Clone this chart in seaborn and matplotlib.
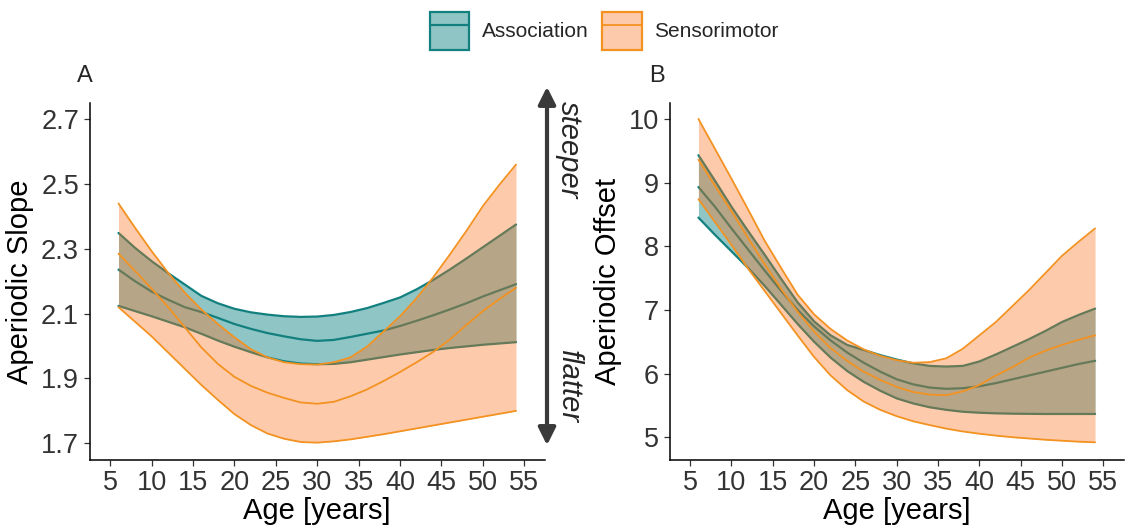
import numpy as np
import pandas as pd
import matplotlib
matplotlib.use("Agg")
import matplotlib.pyplot as plt
import seaborn as sns
from matplotlib.patches import Patch, FancyArrowPatch
from matplotlib.lines import Line2D

# ---------------- data ----------------
age = [6, 8, 10, 12, 14, 16, 18, 20, 22, 24, 26, 28, 30,
       32, 34, 36, 38, 40, 42, 44, 46, 48, 50, 52, 54]

# Panel A: aperiodic slope
slope_assoc_mean = [2.236, 2.200, 2.168, 2.143, 2.120, 2.105, 2.087, 2.068, 2.053, 2.040, 2.030, 2.021, 2.016,
                    2.019, 2.028, 2.038, 2.048, 2.062, 2.078, 2.095, 2.113, 2.132, 2.153, 2.172, 2.191]
slope_assoc_lo = [2.124, 2.108, 2.092, 2.075, 2.058, 2.038, 2.017, 1.998, 1.981, 1.965, 1.953, 1.946, 1.944,
                  1.945, 1.950, 1.958, 1.966, 1.974, 1.981, 1.988, 1.994, 1.999, 2.004, 2.008, 2.012]
slope_assoc_hi = [2.349, 2.303, 2.262, 2.225, 2.190, 2.155, 2.132, 2.115, 2.104, 2.097, 2.092, 2.090, 2.091,
                  2.096, 2.105, 2.117, 2.133, 2.150, 2.175, 2.204, 2.236, 2.270, 2.305, 2.340, 2.375]
slope_sens_mean = [2.285, 2.232, 2.177, 2.120, 2.058, 1.996, 1.945, 1.905, 1.877, 1.856, 1.840, 1.826, 1.822,
                   1.828, 1.845, 1.866, 1.892, 1.920, 1.950, 1.982, 2.020, 2.065, 2.108, 2.145, 2.180]
slope_sens_lo = [2.120, 2.075, 2.030, 1.980, 1.930, 1.880, 1.834, 1.790, 1.756, 1.730, 1.714, 1.704, 1.702,
                 1.706, 1.712, 1.720, 1.728, 1.737, 1.746, 1.755, 1.764, 1.773, 1.782, 1.791, 1.800]
slope_sens_hi = [2.440, 2.365, 2.293, 2.226, 2.165, 2.113, 2.068, 2.027, 1.990, 1.965, 1.950, 1.944, 1.943,
                 1.950, 1.965, 1.998, 2.045, 2.092, 2.148, 2.212, 2.282, 2.355, 2.432, 2.498, 2.560]

# Panel B: aperiodic offset
offset_assoc_mean = [8.93, 8.62, 8.28, 7.95, 7.62, 7.30, 7.00, 6.74, 6.52, 6.33, 6.17, 6.03, 5.91,
                     5.83, 5.78, 5.76, 5.77, 5.80, 5.85, 5.91, 5.97, 6.03, 6.09, 6.15, 6.20]
offset_assoc_lo = [8.45, 8.18, 7.92, 7.66, 7.38, 7.08, 6.78, 6.50, 6.25, 6.04, 5.87, 5.73, 5.61,
                   5.53, 5.47, 5.43, 5.40, 5.385, 5.375, 5.37, 5.367, 5.365, 5.365, 5.365, 5.365]
offset_assoc_hi = [9.43, 9.03, 8.62, 8.24, 7.87, 7.49, 7.12, 6.82, 6.60, 6.45, 6.37, 6.29, 6.22,
                   6.16, 6.12, 6.11, 6.12, 6.19, 6.30, 6.42, 6.54, 6.67, 6.81, 6.92, 7.02]
offset_sens_mean = [9.36, 8.95, 8.55, 8.13, 7.72, 7.33, 6.97, 6.66, 6.40, 6.20, 6.03, 5.90, 5.79,
                    5.71, 5.67, 5.66, 5.72, 5.82, 5.97, 6.10, 6.25, 6.36, 6.45, 6.53, 6.60]
offset_sens_lo = [8.74, 8.38, 8.02, 7.65, 7.30, 6.95, 6.60, 6.26, 5.97, 5.74, 5.56, 5.43, 5.33,
                  5.25, 5.19, 5.135, 5.09, 5.055, 5.025, 5.00, 4.98, 4.96, 4.945, 4.93, 4.92]
offset_sens_hi = [10.00, 9.53, 9.06, 8.58, 8.09, 7.66, 7.24, 6.93, 6.70, 6.52, 6.38, 6.28, 6.21,
                  6.17, 6.18, 6.24, 6.39, 6.60, 6.81, 7.06, 7.31, 7.58, 7.85, 8.07, 8.28]

groups = ["Association", "Sensorimotor"]
x_ticks = [5, 10, 15, 20, 25, 30, 35, 40, 45, 50, 55]
slope_ticks = [1.7, 1.9, 2.1, 2.3, 2.5, 2.7]
offset_ticks = [5, 6, 7, 8, 9, 10]

# ---------------- style ----------------
TEAL_FILL = "#138585"
TEAL_LINE = "#12807F"
ORANGE_FILL = "#FC7019"
ORANGE_LINE = "#F39221"
A_TEAL = 0.47
A_ORANGE = 0.36

sns.set_theme(style="ticks")
plt.rcParams['font.family'] = ['Liberation Sans', 'DejaVu Sans']

fig = plt.figure(figsize=(11.3, 5.27), dpi=100)
W, H = 1130, 527
def box(l, r, t, b):
    return [l / W, (H - b) / H, (r - l) / W, (b - t) / H]

axA = fig.add_axes(box(89.5, 545, 103, 459.5))
axB = fig.add_axes(box(669.5, 1124, 103, 459.5))


def draw(ax, a_mean, a_lo, a_hi, s_mean, s_lo, s_hi):
    ax.fill_between(age, a_lo, a_hi, color=TEAL_FILL, alpha=A_TEAL, lw=0, zorder=1)
    for v in (a_lo, a_mean, a_hi):
        sns.lineplot(x=age, y=v, ax=ax, color=TEAL_LINE, linewidth=1.6, zorder=2)
    ax.fill_between(age, s_lo, s_hi, color=ORANGE_FILL, alpha=A_ORANGE, lw=0, zorder=3)
    for v in (s_lo, s_mean, s_hi):
        sns.lineplot(x=age, y=v, ax=ax, color=ORANGE_LINE, linewidth=1.3, zorder=4)


draw(axA, slope_assoc_mean, slope_assoc_lo, slope_assoc_hi,
     slope_sens_mean, slope_sens_lo, slope_sens_hi)
draw(axB, offset_assoc_mean, offset_assoc_lo, offset_assoc_hi,
     offset_sens_mean, offset_sens_lo, offset_sens_hi)

for ax, yt, ylim, ylab, fmt in (
        (axA, slope_ticks, (1.65, 2.75), "Aperiodic Slope", "{:.1f}"),
        (axB, offset_ticks, (4.65, 10.25), "Aperiodic Offset", "{:d}")):
    ax.set_xlim(2.5, 57.5)
    ax.set_ylim(*ylim)
    ax.set_xticks(x_ticks)
    ax.set_yticks(yt)
    ax.set_yticklabels([fmt.format(v) for v in yt])
    ax.set_xlabel("Age [years]", fontsize=21, color="black", labelpad=1)
    ax.set_ylabel(ylab, fontsize=21, color="black", labelpad=5)
    ax.tick_params(axis="both", labelsize=19.5, labelcolor="#333333", color="#333333",
                   length=4.5, width=0.9, pad=3)
    for s in ("top", "right"):
        ax.spines[s].set_visible(False)
    for s in ("left", "bottom"):
        ax.spines[s].set_color("black")
        ax.spines[s].set_linewidth(1.1)
    ax.set_facecolor("white")
    ax.grid(False)

# panel tags
fig.text(85 / W, 1 - 76 / H, "A", fontsize=17, ha="center", va="center")
fig.text(657 / W, 1 - 76 / H, "B", fontsize=17, ha="center", va="center")

# double-headed arrow with labels
arrow = FancyArrowPatch((547 / W, 1 - 448 / H), (547 / W, 1 - 84 / H),
                        transform=fig.transFigure, arrowstyle="<|-|>",
                        mutation_scale=26, lw=3.0, color="#3A3A3A")
fig.add_artist(arrow)
fig.text(569 / W, 1 - 150 / H, "steeper", rotation=270, style="italic",
         fontsize=21, ha="center", va="center")
fig.text(569 / W, 1 - 386 / H, "flatter", rotation=270, style="italic",
         fontsize=21, ha="center", va="center")

# legend
handles = [
    (Patch(facecolor=TEAL_FILL, alpha=A_TEAL, edgecolor="none"),
     Patch(facecolor="none", edgecolor=TEAL_LINE, linewidth=1.6),
     Line2D([], [], color=TEAL_LINE, linewidth=1.6)),
    (Patch(facecolor=ORANGE_FILL, alpha=A_ORANGE, edgecolor="none"),
     Patch(facecolor="none", edgecolor=ORANGE_LINE, linewidth=1.6),
     Line2D([], [], color=ORANGE_LINE, linewidth=1.3)),
]
fig.legend(handles, groups, loc="center", bbox_to_anchor=(604 / W, 1 - 31 / H),
           ncol=2, frameon=False, fontsize=15, handlelength=1.9, handleheight=2.4,
           handletextpad=0.6, columnspacing=0.65)

fig.savefig("out.png", dpi=100, facecolor="white")
